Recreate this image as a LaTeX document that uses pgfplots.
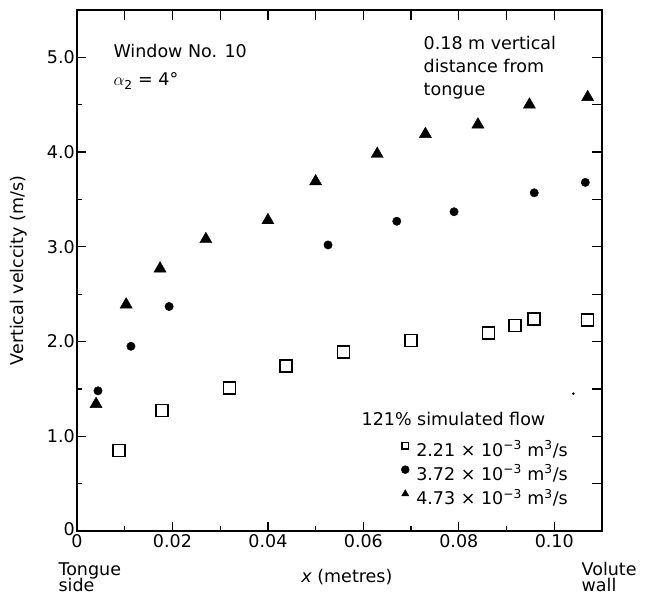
\documentclass[border=0pt]{standalone}
\usepackage{pgfplots}
\pgfplotsset{compat=1.18}
\usepackage{fontspec}
\setmainfont{DejaVu Sans}
\newcommand\fsz{\fontsize{17.5}{21}\selectfont}
\pgfplotsset{
  mylegimg/.style={legend image code/.code={\draw[##1] plot coordinates {(0pt,6pt)};}},
}
\begin{document}
\begin{tikzpicture}[font=\fsz]
\path[use as bounding box] (-77pt,-66pt) rectangle (573pt,531pt);
\begin{axis}[
  scale only axis, width=525pt, height=521pt,
  xmin=0, xmax=0.11, ymin=0, ymax=5.5,
  clip=false,
  axis line style={line width=1.6pt},
  tick align=inside,
  xtick={0,0.02,0.04,0.06,0.08,0.10},
  xticklabels={0,0.02,0.04,0.06,0.08,0.10},
  minor xtick={0.01,0.03,0.05,0.07,0.09},
  ytick={0,1,2,3,4,5},
  yticklabels={\raisebox{4pt}{0},1.0,2.0,3.0,4.0,5.0},
  minor ytick={0.5,1.5,2.5,3.5,4.5},
  xtick pos=left, ytick pos=left,
  major tick length=9pt, minor tick length=5pt,
  every tick/.style={line width=1.3pt, black},
  every tick label/.append style={font=\fsz},
  xticklabel style={inner sep=3.5pt},
  yticklabel style={inner sep=2pt},
  /pgf/number format/assume math mode=true,
  ylabel={Vertical velccity (m/s)},
  ylabel style={at={(axis description cs:-0.112,0.5)}, anchor=center, font=\fsz},
  xlabel={\textit{x} (metres)},
  xlabel style={at={(axis description cs:0.514,-0.098)}, anchor=base, font=\fsz},
  legend style={draw=none, fill=none, at={(axis cs:0.0679,0.940)}, anchor=north west,
    inner sep=0pt, row sep=4.5pt, column sep=6pt, font=\fsz,
    nodes={inner sep=1pt, text height=13pt, text depth=4pt}},
  legend cell align=left,
]
% 2.21e-3 m^3/s
\addplot[only marks, black, mark=square, mark size=6pt, mark options={line width=1.5pt}, forget plot] coordinates {
(0.0088,0.85) (0.0178,1.27) (0.0319,1.51) (0.0438,1.74) (0.0558,1.89)
(0.0700,2.01) (0.0862,2.09) (0.0918,2.17) (0.0958,2.24) (0.1070,2.23)
};
% 3.72e-3 m^3/s
\addplot[only marks, black, mark=*, mark size=4.2pt, mark options={fill=black}, forget plot] coordinates {
(0.0044,1.48) (0.0113,1.95) (0.0193,2.37) (0.0526,3.02) (0.0670,3.27)
(0.0790,3.37) (0.0958,3.57) (0.1065,3.68)
};
% 4.73e-3 m^3/s
\addplot[only marks, black, mark=triangle*, mark size=7pt, mark options={fill=black}, forget plot] coordinates {
(0.0040,1.34) (0.0103,2.39) (0.0174,2.77) (0.0270,3.08) (0.0400,3.28)
(0.0500,3.69) (0.0629,3.98) (0.0730,4.19) (0.0840,4.29) (0.0948,4.50) (0.1070,4.58)
};
% stray speck in the reference
\addplot[only marks, black, mark=*, mark size=1pt, forget plot] coordinates {(0.1040,1.45)};

\addlegendimage{black, mark=square, mark size=3.3pt, line width=1.1pt, mylegimg}
\addlegendentry{2.21 × 10\textsuperscript{−3} m\textsuperscript{3}/s}
\addlegendimage{black, mark=*, mark size=4pt, mark options={fill=black}, mylegimg}
\addlegendentry{3.72 × 10\textsuperscript{−3} m\textsuperscript{3}/s}
\addlegendimage{black, mark=triangle*, mark size=4.2pt, mark options={fill=black}, mylegimg}
\addlegendentry{4.73 × 10\textsuperscript{−3} m\textsuperscript{3}/s}

\node[anchor=base west] at (axis cs:0.00691,4.995) {Window No. 10};
\node[anchor=base west] at (axis cs:0.00691,4.699) {$\alpha$\textsubscript{2} = 4°};
\node[anchor=base west] at (axis cs:0.0719,5.079) {0.18 m vertical};
\node[anchor=base west] at (axis cs:0.0719,4.836) {distance from};
\node[anchor=base west] at (axis cs:0.0719,4.593) {tongue};
\node[anchor=base west] at (axis cs:0.0589,1.119) {121\% simulated flow};
\node[anchor=base west] at (axis cs:-0.00461,-0.465) {Tongue};
\node[anchor=base west] at (axis cs:-0.00461,-0.634) {side};
\node[anchor=base west] at (axis cs:0.105,-0.465) {Volute};
\node[anchor=base west] at (axis cs:0.105,-0.634) {wall};
\end{axis}
\begin{axis}[
  scale only axis, width=525pt, height=521pt,
  xmin=0, xmax=0.11, ymin=0, ymax=5.5,
  axis line style={line width=1.6pt},
  tick align=inside,
  scaled ticks=false,
  xtick={0.02,0.04,0.06,0.08,0.10},
  xticklabels={,,,,},
  minor xtick={0.01,0.03,0.05,0.07,0.09},
  ytick={1,2,3,4,5},
  yticklabels={,,,,},
  minor ytick={0.5,1.5,2.5,3.5,4.5},
  xtick pos=right, ytick pos=right,
  major tick length=10pt, minor tick length=10pt,
  every tick/.style={line width=1.3pt, black},
]
\end{axis}
\end{tikzpicture}
\end{document}
